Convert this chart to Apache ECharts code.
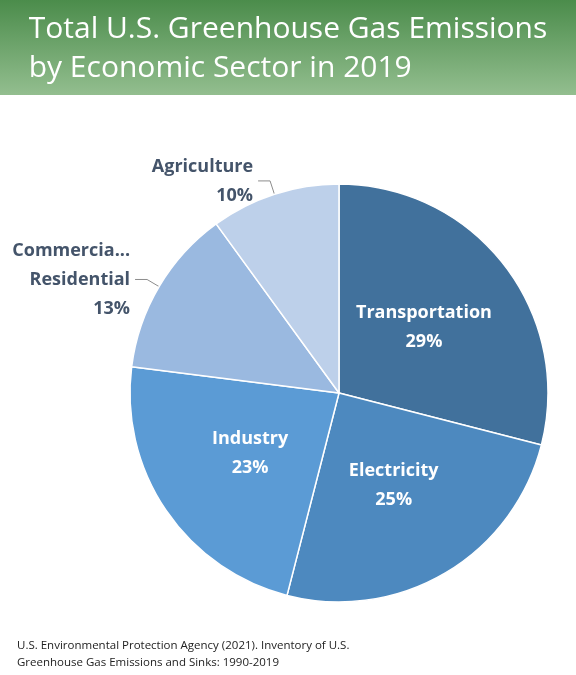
<!DOCTYPE html>
<html>
<head>
<meta charset="utf-8">
<title>Greenhouse Gas Emissions by Sector</title>
<script src="https://cdn.jsdelivr.net/npm/echarts@6/dist/echarts.min.js"></script>
<style>
  html, body { margin: 0; padding: 0; background: #fff; }
  #chart { width: 576px; height: 675px; }
</style>
</head>
<body>
<div id="chart"></div>
<script>
// sector shares, clockwise from 12 o'clock
var sectors = ['Transportation', 'Electricity', 'Industry', 'Commercial &\nResidential', 'Agriculture'];
var shares = [29, 25, 23, 13, 10];
var colors = ['#41719c', '#4d89bf', '#5b9bd5', '#9ab9e0', '#bdd0ea'];
var outside = [false, false, false, true, true];

var font = '"Open Sans", "Noto Sans", sans-serif';
var data = sectors.map(function (s, i) {
  var d = { name: s, value: shares[i], itemStyle: { color: colors[i] } };
  if (outside[i]) {
    d.label = { position: 'outside', color: '#44546a', align: 'center' };
    d.labelLine = { show: true, length: 14, length2: 12, lineStyle: { color: '#8c8c8c', width: 1 } };
  }
  return d;
});

var chart = echarts.init(document.getElementById('chart'));
chart.setOption({
  animation: false,
  graphic: [
    { type: 'rect', left: 0, top: 0, shape: { width: 576, height: 95 },
      style: { fill: new echarts.graphic.LinearGradient(0, 0, 0, 1, [
        { offset: 0, color: '#4b8c4b' }, { offset: 1, color: '#93be8f' }]) } },
    { type: 'text', left: 'center', top: 10,
      style: { text: 'Total U.S. Greenhouse Gas Emissions\nby Economic Sector in 2019', fill: '#fff',
        font: '30px ' + font, lineHeight: 39, align: 'center' } },
    { type: 'text', left: 17, top: 637,
      style: { text: 'U.S. Environmental Protection Agency (2021). Inventory of U.S.\nGreenhouse Gas Emissions and Sinks: 1990-2019',
        fill: '#222', font: '11.5px ' + font, lineHeight: 17 } }
  ],
  series: [{
    type: 'pie',
    center: [339, 393],
    radius: [0, 209],
    startAngle: 90,
    clockwise: true,
    data: data,
    itemStyle: { borderColor: '#fff', borderWidth: 1.5 },
    label: {
      position: 'inside',
      formatter: '{b}\n{c}%',
      color: '#fff',
      fontFamily: font,
      fontWeight: 'bold',
      fontSize: 18,
      lineHeight: 29
    },
    labelLine: { show: false }
  }]
});
</script>
</body>
</html>
